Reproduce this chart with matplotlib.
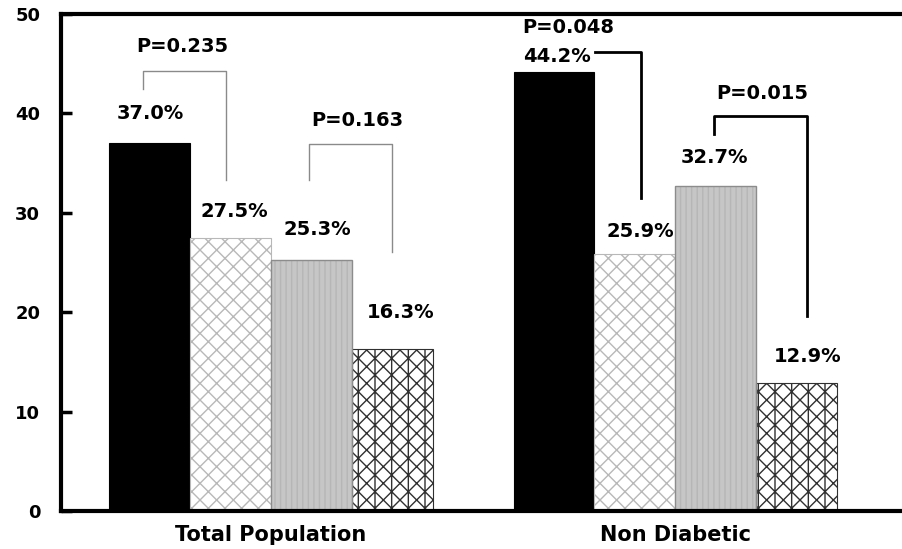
import matplotlib
matplotlib.use("Agg")
import matplotlib.pyplot as plt
import numpy as np

# Percentages for each subgroup within the two populations
groups = ["Total Population", "Non Diabetic"]
series_a = [37.0, 44.2]
series_b = [27.5, 25.9]
series_c = [25.3, 32.7]
series_d = [16.3, 12.9]
value_labels = [["37.0%", "27.5%", "25.3%", "16.3%"],
                ["44.2%", "25.9%", "32.7%", "12.9%"]]
p_values = ["P=0.235", "P=0.163", "P=0.048", "P=0.015"]
y_ticks = [0, 10, 20, 30, 40, 50]

plt.rcParams["font.family"] = ["DejaVu Sans"]
plt.rcParams["font.weight"] = "bold"
plt.rcParams["hatch.linewidth"] = 1.0

fig = plt.figure(figsize=(9.03, 5.49), dpi=100)
ax = fig.add_axes([61 / 903, 38 / 549, 1 - 61 / 903, (511 - 14) / 549])

x = np.arange(len(groups))
w = 0.2
offsets = [-1.5 * w, -0.5 * w, 0.5 * w, 1.5 * w]

# Solid black
ax.bar(x + offsets[0], series_a, width=w, facecolor="black",
       edgecolor="black", linewidth=0.8, zorder=2)
# Light cross-hatch
ax.bar(x + offsets[1], series_b, width=w, facecolor="white",
       edgecolor="#b8b8b8", hatch="xx", linewidth=0.8, zorder=2)
# Gray texture: faint stripes plus a darker outline
ax.bar(x + offsets[2], series_c, width=w, facecolor="#c6c6c6",
       edgecolor="#b6b6b6", hatch="|||", linewidth=0, zorder=2)
ax.bar(x + offsets[2], series_c, width=w, fill=False,
       edgecolor="#8c8c8c", linewidth=1.0, zorder=2.5)
# Dense dark cross-hatch with vertical rules
ax.bar(x + offsets[3], series_d, width=w, facecolor="white",
       edgecolor="#303030", hatch="xx|", linewidth=0.8, zorder=2)

# Value labels above the bars
label_pos = [[(-0.30, 40.0), (-0.09, 30.1), (0.114, 28.3), (0.32, 20.0)],
             [(0.708, 45.7), (0.913, 28.1), (1.097, 35.6), (1.327, 15.5)]]
for gi in range(len(groups)):
    for si in range(4):
        px, py = label_pos[gi][si]
        ax.text(px, py, value_labels[gi][si], ha="center", va="center",
                fontsize=14, fontweight="bold", zorder=4)

# Significance brackets
gray = dict(color="#8a8a8a", lw=1.0, zorder=3)
dark = dict(color="black", lw=2.0, zorder=3)
ax.plot([-0.317, -0.317, -0.111, -0.111], [42.45, 44.27, 44.27, 33.3], **gray)
ax.plot([0.094, 0.094, 0.30, 0.30], [33.3, 36.9, 36.9, 26.06], **gray)
ax.plot([0.802, 0.916, 0.916], [46.18, 46.18, 31.5], **dark)
ax.plot([1.097, 1.097, 1.327, 1.327], [37.9, 39.7, 39.7, 19.6], **dark)

p_pos = [(-0.22, 46.7), (0.213, 39.3), (0.735, 48.6), (1.215, 42.05)]
for (px, py), txt in zip(p_pos, p_values):
    ax.text(px, py, txt, ha="center", va="center", fontsize=14,
            fontweight="bold", zorder=4)

ax.set_xlim(-0.52, 1.564)
ax.set_ylim(0, 50)
ax.set_xticks(x)
ax.set_xticklabels(groups, fontsize=15, fontweight="bold")
ax.set_yticks(y_ticks)
ax.set_yticklabels([str(t) for t in y_ticks], fontsize=13, fontweight="bold")
ax.tick_params(axis="x", length=0, pad=10)
ax.tick_params(axis="y", direction="in", length=8, width=2.5, pad=15)

for side in ["left", "bottom", "top"]:
    ax.spines[side].set_linewidth(3)
ax.spines["right"].set_visible(False)

fig.savefig("out.png", dpi=100)
